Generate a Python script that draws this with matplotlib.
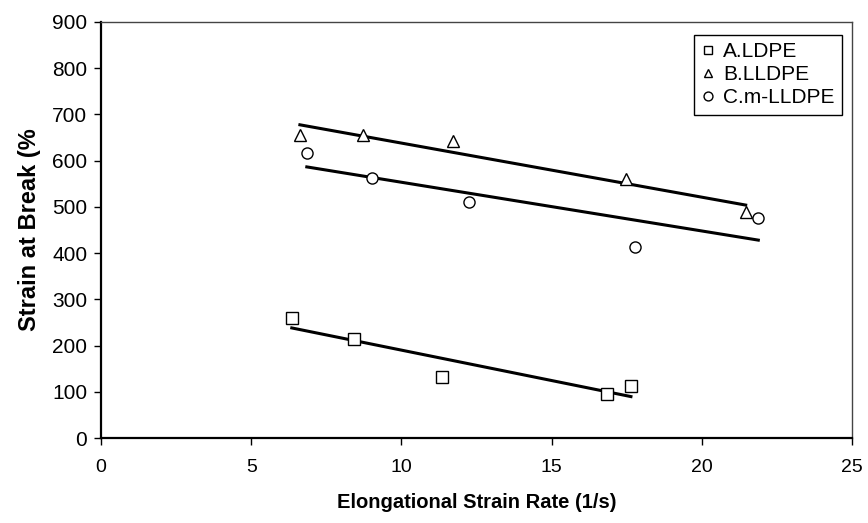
import numpy as np
import matplotlib
matplotlib.use("Agg")
import matplotlib.pyplot as plt

plt.rcParams['font.family'] = ['Liberation Sans', 'DejaVu Sans']

# Data
x_a = [6.35, 8.43, 11.34, 16.85, 17.64]
y_a = [259, 214, 131, 95, 112]
x_b = [6.62, 8.72, 11.71, 17.47, 21.46]
y_b = [656, 656, 643, 560, 488]
x_c = [6.85, 9.02, 12.25, 17.78, 21.88]
y_c = [616, 562, 510, 414, 477]
labels = ['A.LDPE', 'B.LLDPE', 'C.m-LLDPE']
markers = ['s', '^', 'o']

fig = plt.figure(figsize=(8.68, 5.23), dpi=100)
ax = fig.add_axes([0.1164, 0.1625, 0.8652, 0.7955])

for xs, ys, lab, m in zip([x_a, x_b, x_c], [y_a, y_b, y_c], labels, markers):
    ax.plot(xs, ys, linestyle='none', marker=m, markersize=8,
            markerfacecolor='white', markeredgecolor='black', markeredgewidth=1.0,
            label=lab, zorder=3)
    k, b = np.polyfit(xs, ys, 1)
    xx = np.array([min(xs), max(xs)])
    ax.plot(xx, k * xx + b, color='black', linewidth=2.2, zorder=2)

ax.set_xlim(0, 25)
ax.set_ylim(0, 900)
ax.set_xticks(range(0, 26, 5))
ax.set_yticks(range(0, 901, 100))
ax.tick_params(direction='out', length=5, width=1)
ax.tick_params(axis='x', labelsize=14, pad=10)
ax.tick_params(axis='y', labelsize=15, pad=5)
for s in ax.spines.values():
    s.set_linewidth(1.0)
    s.set_color('#444444')
ax.spines['left'].set_color('black')
ax.spines['bottom'].set_color('black')
ax.spines['left'].set_linewidth(1.6)
ax.spines['bottom'].set_linewidth(1.6)

ax.set_xlabel('Elongational Strain Rate (1/s)', fontsize=14.5, fontweight='bold', labelpad=12)
ax.set_ylabel('Strain at Break (%', fontsize=17, fontweight='bold', labelpad=8)

leg = ax.legend(loc='upper right', bbox_to_anchor=(0.9867, 0.969), borderaxespad=0,
                fontsize=15, frameon=True, fancybox=False, framealpha=1,
                edgecolor='black', markerscale=0.8, handlelength=0.6, handletextpad=0.45,
                borderpad=0.35, labelspacing=0.2)
leg.get_frame().set_linewidth(1.0)

fig.savefig('out.png', dpi=100)
